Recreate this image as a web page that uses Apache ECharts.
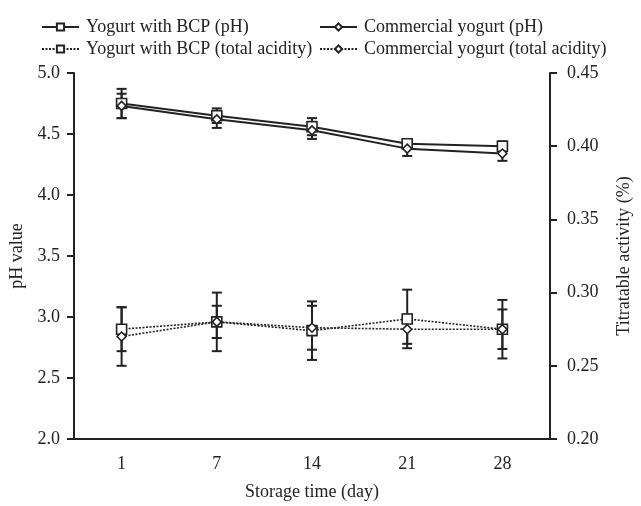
<!DOCTYPE html>
<html>
<head>
<meta charset="utf-8">
<script src="https://cdn.jsdelivr.net/npm/echarts@6/dist/echarts.min.js"></script>
<style>html,body{margin:0;padding:0;background:#fff}#c{width:641px;height:506px}</style>
</head>
<body>
<div id="c"></div>
<script>
var days = ['1', '7', '14', '21', '28'];
var phTicks = ['2.0', '2.5', '3.0', '3.5', '4.0', '4.5', '5.0'];
var taTicks = ['0.20', '0.25', '0.30', '0.35', '0.40', '0.45'];
var bcpPH = [4.75, 4.65, 4.56, 4.42, 4.40];
var comPH = [4.73, 4.62, 4.53, 4.38, 4.34];
var bcpPHErr = [0.12, 0.06, 0.07, 0.03, 0.04];
var comPHErr = [0.10, 0.07, 0.07, 0.06, 0.06];
var bcpTA = [0.275, 0.280, 0.274, 0.282, 0.275];
var comTA = [0.270, 0.280, 0.276, 0.275, 0.275];
var bcpTAErr = [0.015, 0.020, 0.020, 0.020, 0.020];
var comTAErr = [0.020, 0.011, 0.015, 0.010, 0.0135];

var FONT = 'Liberation Serif';
var FS = 18;
var INK = '#222';

function errSeries(vals, errs, yIdx) {
  return {
    type: 'custom',
    yAxisIndex: yIdx,
    z: 1,
    silent: true,
    data: vals.map(function (v, i) { return [i, v - errs[i], v + errs[i]]; }),
    renderItem: function (params, api) {
      var lo = api.coord([api.value(0), api.value(1)]);
      var hi = api.coord([api.value(0), api.value(2)]);
      var hw = 5;
      var st = { stroke: INK, lineWidth: 2 };
      return {
        type: 'group',
        children: [
          { type: 'line', shape: { x1: lo[0], y1: lo[1], x2: hi[0], y2: hi[1] }, style: st },
          { type: 'line', shape: { x1: lo[0] - hw, y1: lo[1], x2: lo[0] + hw, y2: lo[1] }, style: st },
          { type: 'line', shape: { x1: hi[0] - hw, y1: hi[1], x2: hi[0] + hw, y2: hi[1] }, style: st }
        ]
      };
    }
  };
}

function lineSeries(name, vals, yIdx, symbol, size, dotted) {
  return {
    name: name,
    type: 'line',
    yAxisIndex: yIdx,
    data: vals,
    z: 3,
    symbol: symbol,
    symbolSize: size,
    showAllSymbol: true,
    lineStyle: { color: INK, width: dotted ? 1.6 : 2, type: dotted ? [2, 1.5] : 'solid' },
    itemStyle: { color: '#fff', borderColor: INK, borderWidth: 1.6 },
    emphasis: { disabled: true }
  };
}

function leg(name, left, top) {
  return {
    data: [name],
    left: left,
    top: top,
    itemWidth: 37,
    itemHeight: 9,
    itemGap: 0,
    selectedMode: false,
    textStyle: { fontFamily: FONT, fontSize: FS, color: INK, padding: [0, 0, 0, 2] }
  };
}

var names = ['Yogurt with BCP (pH)', 'Commercial yogurt (pH)', 'Yogurt with BCP (total acidity)', 'Commercial yogurt (total acidity)'];

var chart = echarts.init(document.getElementById('c'), null, { renderer: 'canvas' });
chart.setOption({
  animation: false,
  backgroundColor: '#fff',
  legend: [
    leg(names[0], 36, 13),
    leg(names[1], 314, 13),
    leg(names[2], 36, 35),
    leg(names[3], 314, 35)
  ],
  grid: { left: 74, right: 81, top: 73, bottom: 58 },
  xAxis: {
    type: 'category',
    data: days,
    name: 'Storage time (day)',
    nameLocation: 'middle',
    nameGap: 44,
    nameTextStyle: { fontFamily: FONT, fontSize: FS, color: INK },
    axisLine: { lineStyle: { color: INK, width: 2 } },
    axisTick: { alignWithLabel: true, length: 8, lineStyle: { color: INK, width: 2 } },
    axisLabel: { fontFamily: FONT, fontSize: FS, color: INK, margin: 16 }
  },
  yAxis: [
    {
      type: 'value',
      min: 2.0, max: 5.0, interval: 0.5,
      name: 'pH value',
      nameLocation: 'middle',
      nameGap: 46,
      nameTextStyle: { fontFamily: FONT, fontSize: FS, color: INK },
      axisLine: { show: true, lineStyle: { color: INK, width: 2 } },
      axisTick: { show: true, length: 7, lineStyle: { color: INK, width: 2 } },
      splitLine: { show: false },
      axisLabel: { fontFamily: FONT, fontSize: FS, color: INK, margin: 14,
        formatter: function (v) { return phTicks[Math.round((v - 2) / 0.5)] || v.toFixed(1); } }
    },
    {
      type: 'value',
      position: 'right',
      min: 0.20, max: 0.45, interval: 0.05,
      name: 'Titratable activity (%)',
      nameLocation: 'middle',
      nameGap: 65,
      nameRotate: 90,
      nameTextStyle: { fontFamily: FONT, fontSize: FS, color: INK },
      axisLine: { show: true, lineStyle: { color: INK, width: 2 } },
      axisTick: { show: true, length: 7, lineStyle: { color: INK, width: 2 } },
      splitLine: { show: false },
      axisLabel: { fontFamily: FONT, fontSize: FS, color: INK, margin: 17,
        formatter: function (v) { return taTicks[Math.round((v - 0.2) / 0.05)] || v.toFixed(2); } }
    }
  ],
  series: [
    errSeries(bcpPH, bcpPHErr, 0),
    errSeries(comPH, comPHErr, 0),
    errSeries(bcpTA, bcpTAErr, 1),
    errSeries(comTA, comTAErr, 1),
    lineSeries(names[0], bcpPH, 0, 'rect', 10, false),
    lineSeries(names[1], comPH, 0, 'diamond', 9, false),
    lineSeries(names[2], bcpTA, 1, 'rect', 10, true),
    lineSeries(names[3], comTA, 1, 'diamond', 9, true)
  ]
});
</script>
</body>
</html>
